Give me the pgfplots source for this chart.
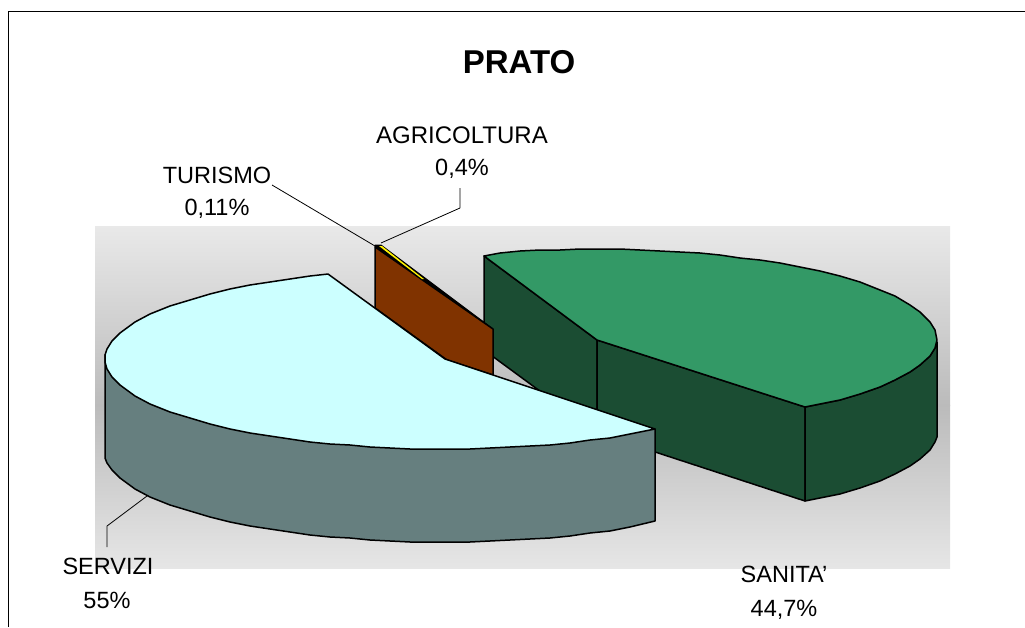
\documentclass[border=0pt]{standalone}
\usepackage{fontspec}
\setmainfont{Liberation Sans}
\usepackage{pgfplots}
\pgfplotsset{compat=1.18}
\definecolor{gA}{HTML}{E9E9E9}
\definecolor{gB}{HTML}{BBBBBB}
\definecolor{gC}{HTML}{E6E6E6}
\definecolor{greenT}{HTML}{339966}
\definecolor{greenD}{HTML}{1B4D33}
\definecolor{cyanT}{HTML}{CCFFFF}
\definecolor{cyanD}{HTML}{667F7F}
\definecolor{brownC}{HTML}{803300}
\newcommand{\lab}{\fontsize{23.5}{28}\selectfont}
\begin{document}
\begin{tikzpicture}
\path[use as bounding box] (0,0) rectangle (1025pt,627pt);
\begin{axis}[
  at={(0,0)}, anchor=south west,
  scale only axis, width=1025pt, height=627pt,
  xmin=0, xmax=1025, ymin=0, ymax=627, y dir=reverse,
  axis lines=none, clip=true,
  every axis plot/.append style={no markers, forget plot, line join=round, line width=1.5pt, draw=black},
]
% background
\addplot[draw=none, top color=gA, bottom color=gB] coordinates {(95,226)(950,226)(950,405)(95,405)} --cycle;
\addplot[draw=none, top color=gB, bottom color=gC] coordinates {(95,405)(950,405)(950,568)(95,568)} --cycle;
% frame
\addplot[line width=1pt] coordinates {(8,627)(8,11)(1025,11)};
% SANITA' sides
\addplot[fill=greenD] coordinates {(484,256)(484,350)(597,433)(597,340)} --cycle;
\addplot[fill=greenD] coordinates {(597,340)(805,407)(805,501)(597,433)} --cycle;
\addplot[fill=greenD] coordinates {(805,407)(820,404)(840,400)(860,394)(880,387)(895,380)(910,372)(920,365)(930,356)(935,348)(937,342)(937,437)(935,442)(930,450)(920,459)(910,466)(895,474)(880,481)(860,488)(840,494)(820,498)(805,501)} --cycle;
% SANITA' top
\addplot[fill=greenT] coordinates {(484,256)(500,253)(520,251)(540,250)(560,250)(580,249)(600,249)(620,249)(640,250)(660,251)(680,252)(700,253)(720,255)(740,258)(760,260)(780,263)(800,267)(820,271)(840,276)(860,282)(880,290)(895,296)(910,305)(920,312)(930,322)(935,330)(937,340)(935,348)(930,356)(920,365)(910,372)(895,380)(880,387)(860,394)(840,400)(820,404)(805,407)(597,340)} --cycle;
% TURISMO / AGRICOLTURA
\addplot[fill=black, line width=1pt] coordinates {(375,245)(381,245)(493,329)(375,247)} --cycle;
\addplot[fill=brownC] coordinates {(375,247)(493,329)(493,375)(447,360)(375,308)} --cycle;
\addplot[fill=yellow, draw=none] coordinates {(379,246)(382,246)(424,279)(422,279)} --cycle;
% SERVIZI side
\addplot[fill=cyanD] coordinates {(655,429)(655,521)(630,527)(610,531)(590,533)(570,536)(550,538)(530,539)(510,540)(490,541)(470,542)(450,542)(430,542)(410,542)(390,541)(370,540)(350,538)(330,537)(310,535)(290,532)(270,529)(250,526)(230,522)(210,517)(190,511)(170,505)(150,497)(135,489)(120,478)(112,470)(107,463)(105,458)(105,355)(300,400)} --cycle;
% SERVIZI top
\addplot[fill=cyanT] coordinates {(655,429)(630,434)(610,438)(590,440)(570,443)(550,445)(530,446)(510,447)(490,448)(470,449)(450,449)(430,449)(410,449)(390,448)(370,447)(350,445)(330,444)(310,442)(290,439)(270,436)(250,433)(230,429)(210,424)(190,418)(170,412)(150,404)(135,396)(120,385)(112,377)(107,369)(105,362)(105,355)(107,349)(112,341)(120,333)(135,322)(150,314)(170,306)(190,300)(210,294)(230,289)(250,285)(270,282)(290,279)(310,276)(328,274)(445,359)} --cycle;
% leaders
\addplot[line width=0.8pt] coordinates {(272,185)(375,246)};
\addplot[line width=0.8pt] coordinates {(381,243)(460,208)(460,188)};
\addplot[line width=0.8pt] coordinates {(147,496)(107,526)(107,547)};
% text
\node[anchor=base] at (axis cs:519,73) {\fontsize{33}{36}\selectfont\bfseries PRATO};
\node[anchor=base] at (axis cs:462,143) {\fontsize{24}{28}\selectfont AGRICOLTURA};
\node[anchor=base] at (axis cs:462,175) {\lab 0,4\%};
\node[anchor=base] at (axis cs:217,183) {\lab TURISMO};
\node[anchor=base] at (axis cs:217,215) {\lab 0,11\%};
\node[anchor=base] at (axis cs:108,574) {\lab SERVIZI};
\node[anchor=base] at (axis cs:107,608) {\lab 55\%};
\node[anchor=base] at (axis cs:784,582) {\lab SANITA'};
\node[anchor=base] at (axis cs:784,616) {\lab 44,7\%};
\end{axis}
\end{tikzpicture}
\end{document}
